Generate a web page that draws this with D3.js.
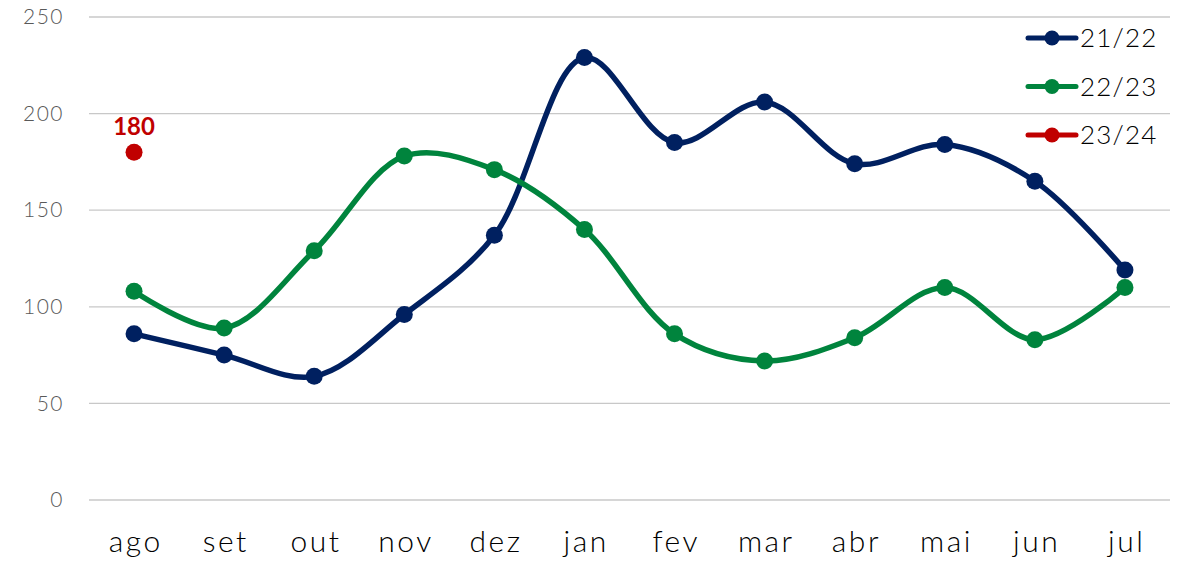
<!DOCTYPE html>
<html>
<head>
<meta charset="utf-8">
<script src="https://cdn.jsdelivr.net/npm/d3@7"></script>
<style>
  html, body { margin: 0; padding: 0; background: #fff; }
  svg { display: block; font-family: "Lato", "Open Sans", sans-serif; }
</style>
</head>
<body>
<svg id="chart" width="1180" height="565"></svg>
<script>
// Monthly values by season (Aug–Jul)
const months = ["ago", "set", "out", "nov", "dez", "jan", "fev", "mar", "abr", "mai", "jun", "jul"];
const season2122 = [86, 75, 64, 96, 137, 229, 185, 206, 174, 184, 165, 119];
const season2223 = [108, 89, 129, 178, 171, 140, 86, 72, 84, 110, 83, 110];
const season2324 = [180];
const yTicks = [0, 50, 100, 150, 200, 250];

const seriesList = [
  { name: "21/22", values: season2122, color: "#002060" },
  { name: "22/23", values: season2223, color: "#00843D" },
  { name: "23/24", values: season2324, color: "#C00000", label: true }
];

const svg = d3.select("#chart");
const margin = { left: 89, right: 10, top: 17, bottom: 65 };
const W = 1180, H = 565;

const x = d3.scalePoint().domain(months).range([margin.left, W - margin.right]).padding(0.5);
const y = d3.scaleLinear().domain([0, 250]).range([H - margin.bottom, margin.top]);

// Horizontal gridlines
svg.append("g").selectAll("line").data(yTicks).join("line")
  .attr("x1", margin.left).attr("x2", W - margin.right)
  .attr("y1", d => y(d)).attr("y2", d => y(d))
  .attr("stroke", "#c8c8c8").attr("stroke-width", 1.3);

// Y axis labels
const yAxis = svg.append("g")
  .attr("transform", `translate(${margin.left - 25},0)`)
  .call(d3.axisLeft(y).tickValues(yTicks).tickSize(0).tickPadding(0));
yAxis.select(".domain").remove();
yAxis.selectAll("text").attr("font-size", 21).attr("fill", "#595959")
  .attr("font-weight", 300).attr("letter-spacing", 1.5)
  .attr("font-family", "Lato, sans-serif");

// X axis labels
const xAxis = svg.append("g")
  .attr("transform", `translate(0,${H - margin.bottom})`)
  .call(d3.axisBottom(x).tickSize(0).tickPadding(31));
xAxis.select(".domain").remove();
xAxis.selectAll("text").attr("font-size", 30).attr("fill", "#000")
  .attr("font-weight", 300).attr("letter-spacing", 2.5)
  .attr("dx", 1.2)
  .attr("font-family", "Lato, sans-serif");

const line = d3.line()
  .x((d, i) => x(months[i]))
  .y(d => y(d))
  .curve(d3.curveCatmullRom.alpha(0.5));

seriesList.forEach(s => {
  const g = svg.append("g");
  if (s.values.length > 1) {
    g.append("path").datum(s.values)
      .attr("d", line)
      .attr("fill", "none")
      .attr("stroke", s.color)
      .attr("stroke-width", 5.5)
      .attr("stroke-linecap", "round");
  }
  g.selectAll("circle").data(s.values).join("circle")
    .attr("cx", (d, i) => x(months[i]))
    .attr("cy", d => y(d))
    .attr("r", 8.5)
    .attr("fill", s.color);
  if (s.label) {
    g.selectAll("text.val").data(s.values).join("text")
      .attr("class", "val")
      .attr("x", (d, i) => x(months[i]))
      .attr("y", d => y(d) - 17)
      .attr("text-anchor", "middle")
      .attr("font-size", 24)
      .attr("font-weight", "bold")
      .attr("fill", s.color)
      .text(d => d);
  }
});

// Legend
const legend = svg.append("g").attr("transform", "translate(1028,38)");
seriesList.forEach((s, i) => {
  const row = legend.append("g").attr("transform", `translate(0,${i * 48.5})`);
  row.append("line").attr("x1", 0).attr("x2", 48).attr("y1", 0).attr("y2", 0)
    .attr("stroke", s.color).attr("stroke-width", 5).attr("stroke-linecap", "round");
  row.append("circle").attr("cx", 24).attr("cy", 0).attr("r", 7.5).attr("fill", s.color);
  row.append("text").attr("x", 52).attr("y", 0).attr("dy", "0.36em")
    .attr("font-size", 26).attr("font-weight", 300).attr("letter-spacing", 1.2)
    .attr("fill", "#000").text(s.name);
});
</script>
</body>
</html>
